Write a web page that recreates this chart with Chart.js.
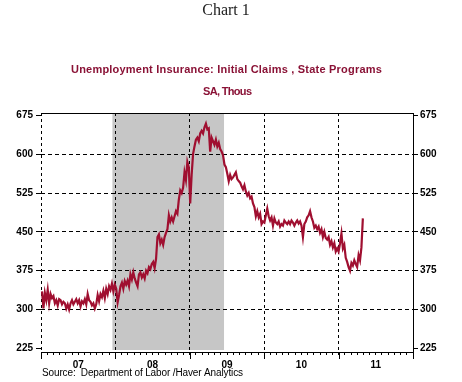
<!DOCTYPE html>
<html>
<head>
<meta charset="utf-8">
<script src="https://cdn.jsdelivr.net/npm/chart.js@4/dist/chart.umd.min.js"></script>
<style>
html,body{margin:0;padding:0;background:#fff;}
#wrap{width:462px;height:382px;position:relative;}
</style>
</head>
<body>
<div id="wrap"><canvas id="c" width="462" height="382"></canvas></div>
<script>
// ---- Text ----
const chartTitle = 'Chart 1';
const seriesTitle = 'Unemployment Insurance: Initial Claims , State Programs';
const unitsTitle = 'SA, Thous';
const sourceNote = 'Source:  Department of Labor /Haver Analytics';

// ---- Data: weekly initial claims (thousands), first week ending 2007-01-06 ----
const firstWeekEnding = [2007, 0, 6];
const claims2007 = [335, 302, 332, 318, 338, 312, 330, 322, 326, 312,
                    318, 308, 320, 318, 310, 315, 312, 302, 310, 300,
                    312, 318, 310, 315, 320, 312, 318, 306, 316, 312,
                    320, 310, 330, 318, 315, 308, 312, 302, 310, 328,
                    316, 330, 324, 336, 322, 340, 330, 345, 338, 350,
                    335, 348];
const claims2008 = [340, 314, 328, 345,
                    352, 340, 355, 348,
                    356, 345, 368, 358, 372,
                    360, 352, 345, 368,
                    372, 362, 368, 360, 375,
                    370, 382, 378, 388,
                    392, 380, 398, 440,
                    445, 428, 435, 425, 440,
                    448, 455, 482, 470,
                    478, 470, 480, 490,
                    485, 512, 530, 525, 535,
                    565, 550, 585, 575];
const claims2009 = [505, 560, 600, 615, 628,
                    632, 625, 640, 645,
                    640, 652, 659, 648,
                    650, 605, 632, 625,
                    618, 628, 615, 622, 610,
                    605, 598, 580, 575,
                    562, 548, 560, 552,
                    555, 560, 565, 552, 548,
                    545, 538, 532, 540,
                    528, 520, 525, 515, 518,
                    505, 498, 480, 490,
                    478, 485, 465, 470];
const claims2010 = [468, 482, 495, 480, 472,
                    478, 462, 476, 468,
                    465, 470, 460, 465,
                    462, 472, 468, 465,
                    470, 465, 472, 468, 462,
                    468, 472, 466, 470,
                    462, 440, 465, 470, 478,
                    482, 490, 478, 470,
                    458, 462, 455, 460,
                    448, 455, 440, 450, 438,
                    435, 440, 425, 432,
                    420, 428, 412, 418];
const claims2011 = [412, 428, 447, 418, 425,
                    400, 392, 382, 375,
                    390, 385, 395, 388,
                    382, 405, 395, 420, 476];

// ---- Axes ----
const yTicks = [225, 300, 375, 450, 525, 600, 675];
const yearTicks = [2007, 2008, 2009, 2010, 2011, 2012];
const yearLabels = ['07', '08', '09', '10', '11'];
const recession = [2007.96, 2009.46]; // Dec 2007 - Jun 2009

// ---- Build points ----
const allClaims = [].concat(claims2007, claims2008, claims2009, claims2010, claims2011);
function fracYear(d) {
  const y = d.getUTCFullYear();
  const a = Date.UTC(y, 0, 1), b = Date.UTC(y + 1, 0, 1);
  return y + (d.getTime() - a) / (b - a);
}
const t0 = Date.UTC(firstWeekEnding[0], firstWeekEnding[1], firstWeekEnding[2]);
const points = allClaims.map((v, i) => ({ x: fracYear(new Date(t0 + i * 7 * 86400000)), y: v }));

const TRANSPARENT = 'rgba(0,0,0,0)';
const tickFont = { family: "'Liberation Sans', Arial, sans-serif", weight: 'bold', size: 10 };
const titleColor = '#8a1236';

function fitText(ctx, text, left, y, width) {
  ctx.letterSpacing = '0px';
  const w = ctx.measureText(text).width;
  const ls = (width - w) / Math.max(text.length - 1, 1);
  ctx.letterSpacing = ls.toFixed(2) + 'px';
  ctx.textAlign = 'left';
  ctx.textBaseline = 'middle';
  ctx.fillText(text, left, y);
  ctx.letterSpacing = '0px';
}

const decor = {
  id: 'decor',
  beforeDraw(chart) {
    const { ctx, chartArea: a, scales } = chart;
    const x0 = scales.x.getPixelForValue(recession[0]);
    const x1 = scales.x.getPixelForValue(recession[1]);
    ctx.save();
    ctx.fillStyle = '#c6c6c6';
    ctx.fillRect(x0, a.top, x1 - x0, a.bottom - a.top - 2);
    ctx.restore();
  },
  afterDraw(chart) {
    const { ctx, chartArea: a, scales } = chart;
    ctx.save();
    // top frame line
    ctx.strokeStyle = '#000';
    ctx.lineWidth = 1;
    ctx.beginPath();
    const ty = Math.round(a.top) + 0.5;
    ctx.moveTo(a.left, ty); ctx.lineTo(a.right + 0.5, ty);
    ctx.stroke();
    // longer year ticks
    yearTicks.forEach(yr => {
      const px = Math.round(scales.x.getPixelForValue(yr)) + 0.5;
      ctx.beginPath();
      ctx.moveTo(px, a.bottom);
      ctx.lineTo(px, a.bottom + 7);
      ctx.stroke();
    });
    // titles
    ctx.fillStyle = '#222';
    ctx.font = "16px 'Liberation Serif', 'Times New Roman', serif";
    ctx.textAlign = 'center';
    ctx.textBaseline = 'middle';
    ctx.fillText(chartTitle, 226, 11);
    ctx.fillStyle = titleColor;
    ctx.font = "bold 11px 'Liberation Sans', Arial, sans-serif";
    fitText(ctx, seriesTitle, 71, 70, 311);
    fitText(ctx, unitsTitle, 203, 92, 49);
    ctx.fillStyle = '#000';
    ctx.font = "10px 'Liberation Sans', Arial, sans-serif";
    fitText(ctx, sourceNote, 42, 373, 201);
    ctx.restore();
  }
};

new Chart(document.getElementById('c'), {
  type: 'line',
  data: {
    datasets: [{
      data: points,
      borderColor: '#a00f30',
      borderWidth: 2.2,
      pointRadius: 0,
      tension: 0,
      fill: false,
      yAxisID: 'y',
      xAxisID: 'x'
    }]
  },
  options: {
    responsive: false,
    devicePixelRatio: 1,
    animation: false,
    layout: { padding: { top: 113, left: 0, right: 0, bottom: 0 } },
    plugins: { legend: { display: false }, title: { display: false }, tooltip: { enabled: false } },
    scales: {
      x: {
        type: 'linear', position: 'bottom', min: 2007, max: 2012,
        afterBuildTicks: s => {
          const t = [];
          for (let m = 0; m <= 60; m++) t.push({ value: 2007 + m / 12 });
          s.ticks = t;
        },
        afterFit: s => { s.height = 30; },
        ticks: {
          autoSkip: false, maxRotation: 0, minRotation: 0, padding: 4,
          font: tickFont, color: '#000',
          callback: (v, i) => (i % 12 === 6) ? yearLabels[(i - 6) / 12] : ''
        },
        grid: {
          color: c => {
            if (!c.tick) return TRANSPARENT;
            const v = c.tick.value;
            return (Math.abs(v - Math.round(v)) < 1e-6 && v < 2011.5) ? '#000' : TRANSPARENT;
          },
          tickColor: '#000', tickLength: 3, lineWidth: 1
        },
        border: { display: true, color: '#000', width: 1, dash: [3, 3] }
      },
      y: {
        type: 'linear', position: 'left', min: 218, max: 679.5,
        afterBuildTicks: s => { s.ticks = yTicks.map(v => ({ value: v })); },
        afterFit: s => { s.width = 41; },
        ticks: { font: tickFont, color: '#000', padding: 3, callback: v => String(v) },
        grid: {
          color: c => (c.tick && c.tick.value > 225 && c.tick.value < 675) ? '#000' : TRANSPARENT,
          tickColor: '#000', tickLength: 5, lineWidth: 1
        },
        border: { display: false, dash: [4, 3] }
      },
      y2: {
        type: 'linear', position: 'right', min: 218, max: 679.5,
        afterBuildTicks: s => { s.ticks = yTicks.map(v => ({ value: v })); },
        afterFit: s => { s.width = 49; },
        ticks: { font: tickFont, color: '#000', padding: 2, callback: v => String(v) },
        grid: { drawOnChartArea: false, color: '#000', tickColor: '#000', tickLength: 5, lineWidth: 1 },
        border: { display: true, color: '#000', width: 1 }
      }
    }
  },
  plugins: [decor]
});
</script>
</body>
</html>
